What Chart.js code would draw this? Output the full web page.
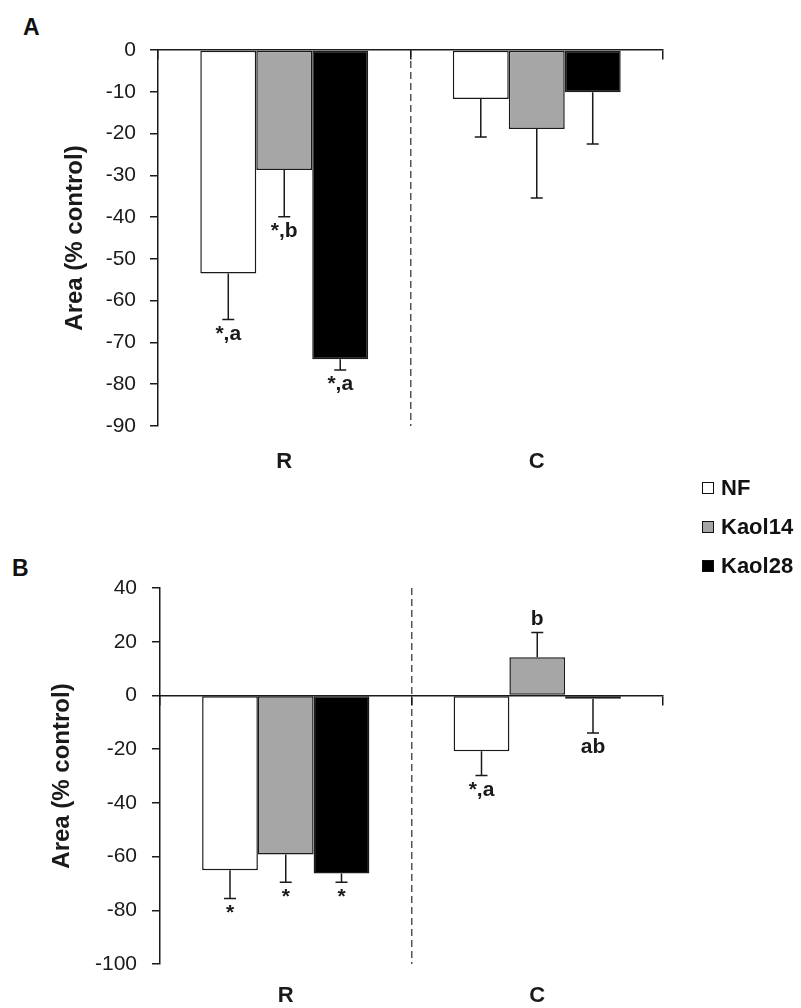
<!DOCTYPE html>
<html>
<head>
<meta charset="utf-8">
<script src="https://cdn.jsdelivr.net/npm/chart.js@4.4.0/dist/chart.umd.min.js"></script>
<style>
  body { margin: 0; background: #fff; font-family: 'Liberation Sans', Arial, sans-serif; }
  #page { position: relative; width: 801px; height: 1008px; overflow: hidden; }
  canvas { position: absolute; left: 0; }
  .panel { position: absolute; font-weight: bold; font-size: 23px; line-height: 1; color: #111; }
  #legend { position: absolute; left: 702px; top: 468px; }
  .item { display: flex; align-items: center; height: 39px; font-weight: bold; font-size: 22px; color: #111; }
  .box { width: 10px; height: 10px; border: 1.5px solid #111; margin-right: 7px; }
</style>
</head>
<body>
<div id="page">
  <div class="panel" style="left:23px; top:16px;">A</div>
  <div class="panel" style="left:12px; top:557px;">B</div>
  <canvas id="chartA" width="801" height="480" style="top:0;"></canvas>
  <canvas id="chartB" width="801" height="538" style="top:470px;"></canvas>
  <div id="legend"></div>
</div>
<script>
// groups and series
const groups = ['R', 'C'];
const seriesNames = ['NF', 'Kaol14', 'Kaol28'];

// panel A: area change (% control), SEM and significance marks
const areaA_NF = [-53.5, -11.7];
const areaA_Kaol14 = [-28.7, -18.9];
const areaA_Kaol28 = [-74.0, -10.1];
const errA_NF = [11.0, 9.1];
const errA_Kaol14 = [11.2, 16.5];
const errA_Kaol28 = [2.6, 12.4];
const sigA_NF = ['*,a', ''];
const sigA_Kaol14 = ['*,b', ''];
const sigA_Kaol28 = ['*,a', ''];
const yTicksA = [-90, -80, -70, -60, -50, -40, -30, -20, -10, 0];

// panel B
const areaB_NF = [-65.1, -20.8];
const areaB_Kaol14 = [-59.2, 14.2];
const areaB_Kaol28 = [-66.3, -1.2];
const errB_NF = [10.5, 9.0];
const errB_Kaol14 = [10.4, 9.2];
const errB_Kaol28 = [3.3, 12.8];
const sigB_NF = ['*', '*,a'];
const sigB_Kaol14 = ['*', 'b'];
const sigB_Kaol28 = ['*', 'ab'];
const yTicksB = [-100, -80, -60, -40, -20, 0, 20, 40];

const fills = ['#ffffff', '#a6a6a6', '#000000'];
const ink = '#1a1a1a';
const family = "'Liberation Sans', Arial, sans-serif";

// error bars + significance letters, placed with the y scale
const errorBars = {
  id: 'errorBars',
  afterDatasetsDraw(chart) {
    const { ctx } = chart;
    const y = chart.scales.y;
    ctx.save();
    ctx.strokeStyle = ink;
    ctx.lineWidth = 1.5;
    ctx.fillStyle = ink;
    ctx.font = 'bold 21px ' + family;
    ctx.textAlign = 'center';
    chart.data.datasets.forEach((ds, i) => {
      chart.getDatasetMeta(i).data.forEach((bar, j) => {
        const v = ds.data[j];
        const dir = v < 0 ? -1 : 1;
        const yEnd = y.getPixelForValue(v + dir * ds.errors[j]);
        ctx.beginPath();
        ctx.moveTo(bar.x, bar.y);
        ctx.lineTo(bar.x, yEnd);
        ctx.moveTo(bar.x - 6, yEnd);
        ctx.lineTo(bar.x + 6, yEnd);
        ctx.stroke();
        const mark = ds.marks[j];
        if (!mark) return;
        if (dir < 0) {
          ctx.textBaseline = 'top';
          ctx.fillText(mark, bar.x, yEnd + 4);
        } else {
          ctx.textBaseline = 'bottom';
          ctx.fillText(mark, bar.x, yEnd - 3);
        }
      });
    });
    ctx.restore();
  }
};

function makePanel(id, values, errors, marks, yTicks, box) {
  const datasets = seriesNames.map((name, i) => ({
    label: name,
    data: values[i],
    errors: errors[i],
    marks: marks[i],
    backgroundColor: fills[i],
    borderColor: ink,
    borderWidth: 1.5,
    borderSkipped: false,
    categoryPercentage: 0.665,
    barPercentage: 1
  }));
  return new Chart(document.getElementById(id), {
    type: 'bar',
    data: { labels: groups, datasets: datasets },
    options: {
      responsive: false,
      animation: false,
      devicePixelRatio: 1,
      layout: { padding: { top: box.top, right: box.right, left: 0, bottom: 0 } },
      plugins: { legend: { display: false }, tooltip: { enabled: false } },
      scales: {
        x: {
          offset: true,
          grid: {
            offset: true,
            drawTicks: false,
            lineWidth: 1.5,
            color: c => c.index === 1 ? '#555' : 'rgba(0,0,0,0)'
          },
          border: { display: false, dash: [7, 4] },
          ticks: { padding: box.labelPad, color: ink, font: { family: family, size: 22, weight: 'bold' } },
          afterFit: s => { s.height = box.xHeight; }
        },
        x2: {
          type: 'category',
          labels: groups,
          position: { y: 0 },
          offset: true,
          grid: { offset: true, drawOnChartArea: false, tickLength: 9, lineWidth: 1.5, color: ink },
          border: { color: ink, width: 1.5 },
          ticks: { display: false },
          afterFit: s => { s.height = 0; }
        },
        y: {
          min: Math.min(...yTicks),
          max: Math.max(...yTicks),
          ticks: {
            stepSize: yTicks[1] - yTicks[0],
            padding: box.tickPad,
            color: ink,
            font: { family: family, size: 21 }
          },
          grid: { drawOnChartArea: false, tickLength: 8, lineWidth: 1.5, color: ink },
          border: { color: ink, width: 1.5 },
          title: {
            display: true,
            text: 'Area (% control)',
            color: ink,
            font: { family: family, size: 24, weight: 'bold' },
            padding: { top: box.titlePad, bottom: 0 }
          },
          afterFit: s => { s.width = box.yWidth; }
        }
      }
    },
    plugins: [errorBars]
  });
}

makePanel('chartA',
  [areaA_NF, areaA_Kaol14, areaA_Kaol28],
  [errA_NF, errA_Kaol14, errA_Kaol28],
  [sigA_NF, sigA_Kaol14, sigA_Kaol28],
  yTicksA,
  { top: 50, right: 138, yWidth: 158, xHeight: 54, labelPad: 23, tickPad: 14, titlePad: 61 });

makePanel('chartB',
  [areaB_NF, areaB_Kaol14, areaB_Kaol28],
  [errB_NF, errB_Kaol14, errB_Kaol28],
  [sigB_NF, sigB_Kaol14, sigB_Kaol28],
  yTicksB,
  { top: 118, right: 138, yWidth: 160, xHeight: 44, labelPad: 19, tickPad: 15, titlePad: 48 });

// legend shared by both panels
const legend = document.getElementById('legend');
seriesNames.forEach((name, i) => {
  const row = document.createElement('div');
  row.className = 'item';
  const sw = document.createElement('span');
  sw.className = 'box';
  sw.style.background = fills[i];
  row.appendChild(sw);
  row.appendChild(document.createTextNode(name));
  legend.appendChild(row);
});
</script>
</body>
</html>
